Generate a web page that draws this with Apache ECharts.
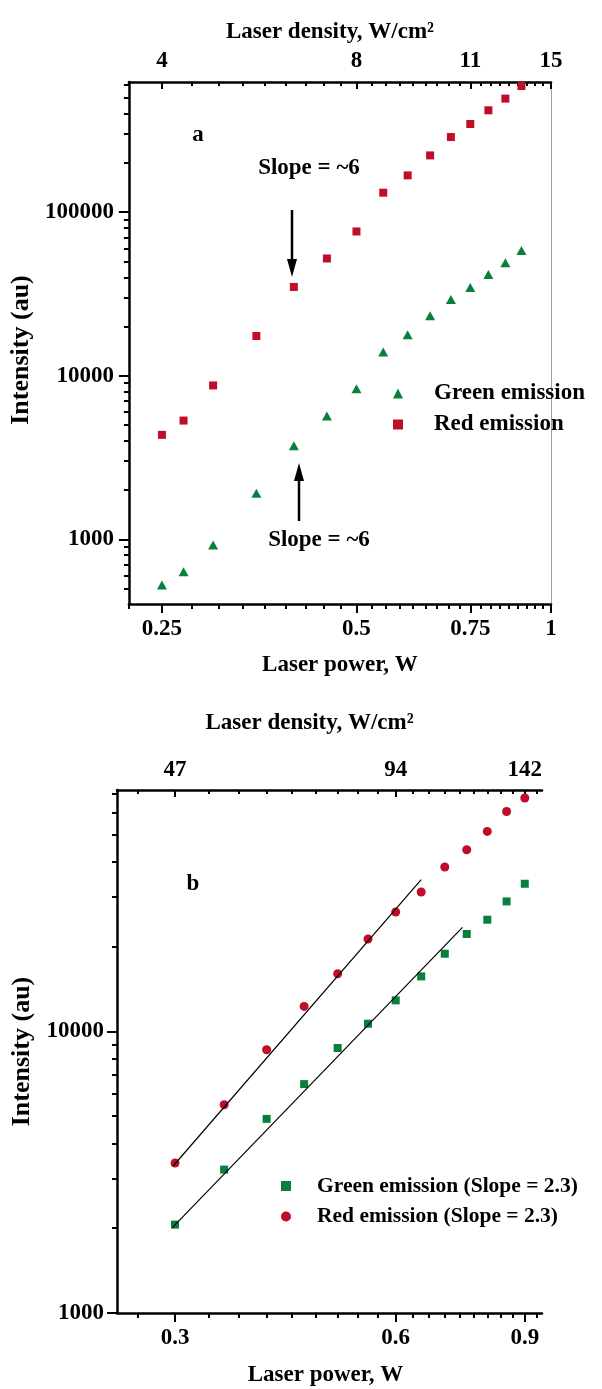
<!DOCTYPE html>
<html>
<head>
<meta charset="utf-8">
<script src="https://cdn.jsdelivr.net/npm/echarts@6/dist/echarts.min.js"></script>
<style>
  html, body { margin: 0; padding: 0; background: #fff; }
  #chart { width: 602px; height: 1389px; }
</style>
</head>
<body>
<div id="chart"></div>
<script>
// panel a: laser power (W) vs intensity (au)
const powerA = [0.25, 0.27, 0.30, 0.35, 0.40, 0.45, 0.50, 0.55, 0.60, 0.65, 0.70, 0.75, 0.80, 0.85, 0.90];
const greenA = [525, 633, 923, 1910, 3730, 5670, 8330, 13970, 17830, 23300, 29200, 34590, 41540, 48980, 58290];
const redA = [4350, 5320, 8720, 17500, 34900, 52100, 76200, 131500, 167800, 222400, 287900, 345900, 419600, 494600, 591000];

// panel b
const powerB = [0.30, 0.35, 0.40, 0.45, 0.50, 0.55, 0.60, 0.65, 0.70, 0.75, 0.80, 0.85, 0.90];
const greenB = [2060, 3230, 4890, 6500, 8730, 10650, 12890, 15680, 18870, 22180, 24930, 28950, 33450];
const redB = [3410, 5490, 8610, 12270, 16030, 21290, 26550, 31260, 38360, 44180, 51310, 60420, 67440];

// fitted lines, end points
const fitRedX = [0.298, 0.65];
const fitRedY = [3320, 34570];
const fitGreenX = [0.2975, 0.74];
const fitGreenY = [2010, 23410];

// axes ranges and ticks
const xRangeA = [2 / 9, 1];
const yRangeA = [402, 625000];
const xRangeB = [0.25, 0.95];
const yRangeB = [1000, 72000];

const xTicksA = [0.25, 0.5, 0.75, 1];
const xLabelsA = ['0.25', '0.5', '0.75', '1'];
const densityLabelsA = ['4', '8', '11', '15'];
const yTicksA = [1000, 10000, 100000];
const yLabelsA = ['1000', '10000', '100000'];

const xTicksB = [0.3, 0.6, 0.9];
const xLabelsB = ['0.3', '0.6', '0.9'];
const densityLabelsB = ['47', '94', '142'];
const yTicksB = [1000, 10000];
const yLabelsB = ['1000', '10000'];

const RED = '#c00d28';
const GREEN = '#08803c';
const FONT = '"Liberation Serif", "Times New Roman", serif';

const lg = Math.log10;

// minor ticks
const xMinorA = [];
for (let k = 8; k <= 36; k++) xMinorA.push(k / 36);
const xMinorB = [];
for (let k = 8; k <= 28; k++) xMinorB.push(k / 30);
function decadeMinors(lo, hi) {
	const out = [];
	for (let d = 100; d <= 1000000; d *= 10) {
		for (let m = 2; m <= 9; m++) {
			const v = m * d;
			if (v >= lo && v <= hi) out.push(v);
		}
	}
	return out;
}
const yMinorA = decadeMinors(yRangeA[0], yRangeA[1]);
const yMinorB = decadeMinors(yRangeB[0], yRangeB[1]);

function pick(ticks, labels) {
	return function (v) {
		let best = 0;
		ticks.forEach((t, i) => {
			if (Math.abs(lg(t) - v) < Math.abs(lg(ticks[best]) - v)) best = i;
		});
		return labels[best];
	};
}

const labelStyle = { color: '#000', fontFamily: FONT, fontWeight: 'bold', fontSize: 23 };
const lineStyle = { color: '#000', width: 2.5 };

function majorAxis(grid, pos, range, ticks, labels, o) {
	return {
		type: 'value', gridIndex: grid, position: pos,
		min: lg(range[0]), max: lg(range[1]),
		axisLine: { onZero: false, lineStyle: lineStyle },
		axisTick: {
			customValues: ticks.map(lg), inside: !!o.inside, length: o.tick,
			lineStyle: { color: '#000', width: 2 }
		},
		axisLabel: Object.assign({
			customValues: ticks.map(lg), formatter: pick(ticks, labels), margin: o.margin
		}, labelStyle),
		splitLine: { show: false },
		name: o.name, nameLocation: 'middle', nameGap: o.nameGap, nameRotate: o.rotate,
		nameTextStyle: Object.assign({}, labelStyle, { padding: o.namePad || 0, fontSize: o.nameSize || 23 })
	};
}

function minorAxis(grid, pos, range, ticks, len, inside) {
	return {
		type: 'value', gridIndex: grid, position: pos,
		min: lg(range[0]), max: lg(range[1]),
		axisLine: { show: false, onZero: false },
		axisTick: {
			customValues: ticks.map(lg), inside: !!inside, length: len,
			lineStyle: { color: '#000', width: 2 }
		},
		axisLabel: { show: false },
		splitLine: { show: false }
	};
}

const xAxes = [
	// panel a
	majorAxis(0, 'bottom', xRangeA, xTicksA, xLabelsA, { tick: 9, margin: 14, name: 'Laser power, W', nameGap: 50 }),
	minorAxis(0, 'bottom', xRangeA, xMinorA, 5),
	majorAxis(0, 'top', xRangeA, xTicksA, densityLabelsA, { tick: 7, inside: true, margin: 9, name: 'Laser density, W/cm²', nameGap: 38, namePad: [0, 20, 0, 0] }),
	minorAxis(0, 'top', xRangeA, xMinorA, 4, true),
	// panel b
	majorAxis(1, 'bottom', xRangeB, xTicksB, xLabelsB, { tick: 9, margin: 14, name: 'Laser power, W', nameGap: 51, namePad: [0, 8, 0, 0] }),
	minorAxis(1, 'bottom', xRangeB, xMinorB, 5),
	majorAxis(1, 'top', xRangeB, xTicksB, densityLabelsB, { tick: 7, inside: true, margin: 8, name: 'Laser density, W/cm²', nameGap: 55, namePad: [0, 40, 0, 0] }),
	minorAxis(1, 'top', xRangeB, xMinorB, 4, true)
];

const yAxes = [
	majorAxis(0, 'left', yRangeA, yTicksA, yLabelsA, { tick: 10, margin: 15, name: 'Intensity (au)', nameGap: 87, rotate: 90, nameSize: 26, namePad: [0, 14, 0, 0] }),
	minorAxis(0, 'left', yRangeA, yMinorA, 5),
	{
		type: 'value', gridIndex: 0, position: 'right',
		min: lg(yRangeA[0]), max: lg(yRangeA[1]),
		axisLine: { onZero: false, lineStyle: { color: '#a0a0a0', width: 1 } },
		axisTick: { show: false }, axisLabel: { show: false }, splitLine: { show: false }
	},
	majorAxis(1, 'left', yRangeB, yTicksB, yLabelsB, { tick: 10, margin: 13, name: 'Intensity (au)', nameGap: 82, rotate: 90, nameSize: 26 }),
	minorAxis(1, 'left', yRangeB, yMinorB, 5)
];

function pairs(xs, ys) {
	return xs.map((x, i) => [lg(x), lg(ys[i])]);
}

const textFont = 'bold 23px ' + FONT;
function label(text, x, y) {
	return { type: 'text', x: x, y: y, style: { text: text, font: textFont, fill: '#000', align: 'center', verticalAlign: 'middle' } };
}
function arrow(x, yTail, yTip) {
	const dir = yTip > yTail ? 1 : -1;
	const base = yTip - dir * 18;
	return [
		{ type: 'line', shape: { x1: x, y1: yTail, x2: x, y2: base + dir * 2 }, style: { stroke: '#000', lineWidth: 2.5 } },
		{ type: 'polygon', shape: { points: [[x - 5, base], [x + 5, base], [x, yTip]] }, style: { fill: '#000' } }
	];
}

function legendOf(names, left, top, gap, size, pad) {
	return {
		data: names, orient: 'vertical', left: left, top: top,
		itemWidth: 10, itemHeight: 10, itemGap: gap, selectedMode: false,
		textStyle: Object.assign({}, labelStyle, { fontSize: size, padding: [0, 0, 0, pad] })
	};
}

const option = {
	animation: false,
	backgroundColor: '#fff',
	grid: [
		{ left: 128, top: 82, width: 423, height: 522 },
		{ left: 117, top: 790, width: 425, height: 523 }
	],
	xAxis: xAxes,
	yAxis: yAxes,
	legend: [
		legendOf(['Green emission', 'Red emission'], 388, 377, 8, 23, 26),
		legendOf(['Green emission (Slope = 2.3)', 'Red emission (Slope = 2.3)'], 276, 1170, 8.5, 21.5, 21)
	],
	series: [
		{
			type: 'scatter', name: 'Green emission', xAxisIndex: 0, yAxisIndex: 0,
			symbol: 'triangle', symbolSize: [10, 9], itemStyle: { color: GREEN, opacity: 1 },
			data: pairs(powerA, greenA)
		},
		{
			type: 'scatter', name: 'Red emission', xAxisIndex: 0, yAxisIndex: 0,
			symbol: 'rect', symbolSize: 8, itemStyle: { color: RED, opacity: 1 },
			data: pairs(powerA, redA)
		},
		{
			type: 'line', name: 'fit red', xAxisIndex: 4, yAxisIndex: 3, silent: true,
			symbol: 'none', lineStyle: { color: '#000', width: 1.2 },
			data: pairs(fitRedX, fitRedY)
		},
		{
			type: 'line', name: 'fit green', xAxisIndex: 4, yAxisIndex: 3, silent: true,
			symbol: 'none', lineStyle: { color: '#000', width: 1.2 },
			data: pairs(fitGreenX, fitGreenY)
		},
		{
			type: 'scatter', name: 'Green emission (Slope = 2.3)', xAxisIndex: 4, yAxisIndex: 3,
			symbol: 'rect', symbolSize: 8, itemStyle: { color: GREEN, opacity: 1 },
			data: pairs(powerB, greenB)
		},
		{
			type: 'scatter', name: 'Red emission (Slope = 2.3)', xAxisIndex: 4, yAxisIndex: 3,
			symbol: 'circle', symbolSize: 9, itemStyle: { color: RED, opacity: 1 },
			data: pairs(powerB, redB)
		}
	],
	graphic: [
		label('a', 198, 135),
		label('Slope = ~6', 309, 168),
		label('Slope = ~6', 319, 540),
		label('b', 193, 884)
	].concat(arrow(292, 210, 277), arrow(299, 521, 463))
};

const myChart = echarts.init(document.getElementById('chart'));
myChart.setOption(option);
</script>
</body>
</html>
